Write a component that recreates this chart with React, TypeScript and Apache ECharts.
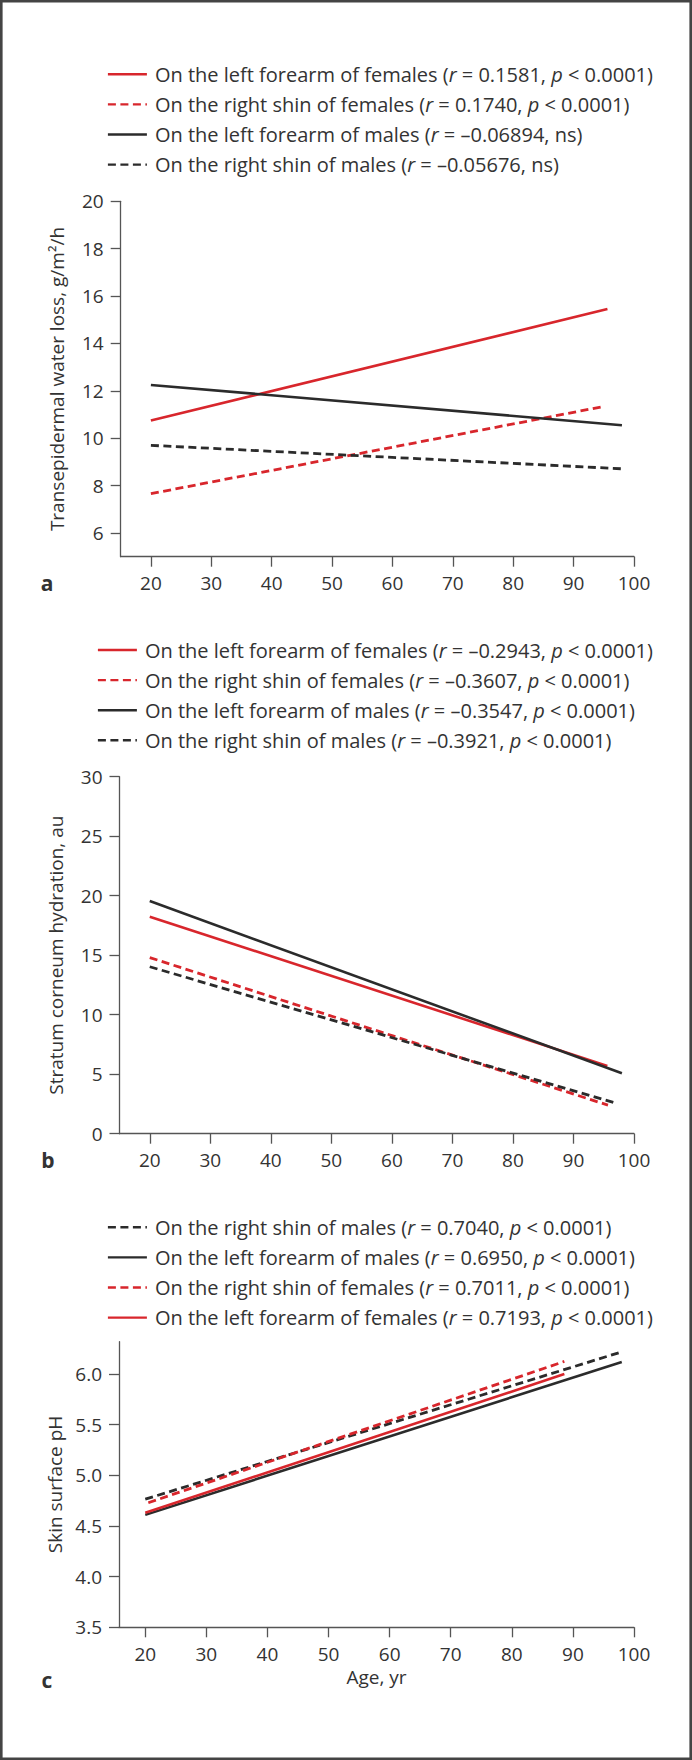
import React, { useEffect, useRef } from "react";
import * as echarts from "echarts";

// ---------- data ----------
const X_TICKS = [20, 30, 40, 50, 60, 70, 80, 90, 100];
const A_Y_TICKS = [6, 8, 10, 12, 14, 16, 18, 20];
const B_Y_TICKS = [0, 5, 10, 15, 20, 25, 30];
const C_Y_TICKS = [3.5, 4.0, 4.5, 5.0, 5.5, 6.0];

const A_NAMES = [
  "On the left forearm of females (r = 0.1581, p < 0.0001)",
  "On the right shin of females (r = 0.1740, p < 0.0001)",
  "On the left forearm of males (r = –0.06894, ns)",
  "On the right shin of males (r = –0.05676, ns)",
];
const A_F_FOREARM = [[20, 10.75], [95.6, 15.45]];
const A_F_SHIN = [[20, 7.66], [95, 11.34]];
const A_M_FOREARM = [[20, 12.25], [98, 10.55]];
const A_M_SHIN = [[20, 9.7], [98, 8.71]];

const B_NAMES = [
  "On the left forearm of females (r = –0.2943, p < 0.0001)",
  "On the right shin of females (r = –0.3607, p < 0.0001)",
  "On the left forearm of males (r = –0.3547, p < 0.0001)",
  "On the right shin of males (r = –0.3921, p < 0.0001)",
];
const B_F_FOREARM = [[20, 18.24], [95.6, 5.7]];
const B_F_SHIN = [[20, 14.8], [95.7, 2.4]];
const B_M_FOREARM = [[20, 19.55], [98, 5.08]];
const B_M_SHIN = [[20, 14.03], [97.1, 2.55]];

const C_NAMES = [
  "On the right shin of males (r = 0.7040, p < 0.0001)",
  "On the left forearm of males (r = 0.6950, p < 0.0001)",
  "On the right shin of females (r = 0.7011, p < 0.0001)",
  "On the left forearm of females (r = 0.7193, p < 0.0001)",
];
const C_M_SHIN = [[20, 4.765], [98, 6.22]];
const C_M_FOREARM = [[20, 4.61], [98, 6.12]];
const C_F_SHIN = [[20.5, 4.73], [88.6, 6.125]];
const C_F_FOREARM = [[20, 4.63], [88.6, 6.0]];

// ---------- styles ----------
const FONT = "'Open Sans', 'Noto Sans', sans-serif";
const RED = "#d8262c";
const BLACK = "#2b2b2b";
const TEXT = "#333333";
const AXIS = "#555555";

const fmtName = (name: string) =>
  name.replace("(r = ", "({i|r} = ").replace(", p < ", ", {i|p} < ");

function legend(names: string[], left: number, top: number) {
  return {
    data: names,
    orient: "vertical",
    left,
    top,
    padding: 0,
    itemWidth: 39,
    itemHeight: 12,
    itemGap: 8.1,
    selectedMode: false,
    formatter: fmtName,
    itemStyle: { opacity: 0 },
    lineStyle: { width: 2.4 },
    textStyle: {
      fontFamily: FONT,
      fontSize: 20,
      lineHeight: 22,
      color: TEXT,
      padding: [0, 0, 0, 3],
      rich: {
        i: { fontFamily: FONT, fontSize: 20, lineHeight: 22, fontStyle: "italic", color: TEXT },
      },
    },
  };
}

function xAxis(gridIndex: number, min: number, name?: string) {
  return {
    type: "value",
    gridIndex,
    min,
    max: 100,
    name: name || "",
    nameLocation: "middle",
    nameGap: 40,
    nameTextStyle: { fontFamily: FONT, fontSize: 19, color: TEXT },
    axisLine: { show: true, onZero: false, lineStyle: { color: AXIS, width: 1.3 } },
    axisTick: { show: true, length: 10, customValues: X_TICKS, lineStyle: { color: AXIS, width: 1.3 } },
    axisLabel: { customValues: X_TICKS, margin: 17, fontSize: 19, fontFamily: FONT, color: TEXT },
    splitLine: { show: false },
  };
}

function yAxis(gridIndex: number, min: number, max: number, ticks: number[], name: string, decimals: number) {
  return {
    type: "value",
    gridIndex,
    min,
    max,
    name,
    nameLocation: "middle",
    nameRotate: 90,
    nameGap: 54,
    nameTextStyle: { fontFamily: FONT, fontSize: 19, color: TEXT },
    axisLine: { show: true, onZero: false, lineStyle: { color: AXIS, width: 1.3 } },
    axisTick: { show: true, length: 10, customValues: ticks, lineStyle: { color: AXIS, width: 1.3 } },
    axisLabel: {
      customValues: ticks,
      margin: 17,
      fontSize: 19,
      fontFamily: FONT,
      color: TEXT,
      formatter: (v: number) => v.toFixed(decimals),
    },
    splitLine: { show: false },
  };
}

function line(name: string, data: number[][], idx: number, color: string, dashed: boolean) {
  return {
    type: "line",
    name,
    data,
    xAxisIndex: idx,
    yAxisIndex: idx,
    symbol: "none",
    showSymbol: false,
    silent: true,
    lineStyle: {
      color,
      width: dashed ? 2.8 : 2.6,
      type: dashed ? [8, 4.5] : "solid",
    },
    itemStyle: { color },
  };
}

export default function App() {
  const ref = useRef<HTMLDivElement>(null);
  useEffect(() => {
    document.body.style.margin = "0";
    const chart = echarts.init(ref.current!, null, { renderer: "svg" });
    chart.setOption({
      animation: false,
      backgroundColor: "#ffffff",
      grid: [
        { left: 120.7, right: 58, top: 201.3, height: 355.4 },
        { left: 119.5, right: 58, top: 776.7, height: 357 },
        { left: 119, right: 58, top: 1341.7, height: 285.6 },
      ],
      legend: [
        legend(A_NAMES, 106.7, 63.3),
        legend(B_NAMES, 96.7, 639),
        legend(C_NAMES, 106.7, 1216.3),
      ],
      xAxis: [xAxis(0, 15), xAxis(1, 15), xAxis(2, 15.7, "Age, yr")],
      yAxis: [
        yAxis(0, 5, 20, A_Y_TICKS, "Transepidermal water loss, g/m²/h", 0),
        yAxis(1, 0, 30, B_Y_TICKS, "Stratum corneum hydration, au", 0),
        yAxis(2, 3.5, 6.32, C_Y_TICKS, "Skin surface pH", 1),
      ],
      series: [
        line(A_NAMES[0], A_F_FOREARM, 0, RED, false),
        line(A_NAMES[1], A_F_SHIN, 0, RED, true),
        line(A_NAMES[2], A_M_FOREARM, 0, BLACK, false),
        line(A_NAMES[3], A_M_SHIN, 0, BLACK, true),
        line(B_NAMES[0], B_F_FOREARM, 1, RED, false),
        line(B_NAMES[1], B_F_SHIN, 1, RED, true),
        line(B_NAMES[2], B_M_FOREARM, 1, BLACK, false),
        line(B_NAMES[3], B_M_SHIN, 1, BLACK, true),
        line(C_NAMES[0], C_M_SHIN, 2, BLACK, true),
        line(C_NAMES[1], C_M_FOREARM, 2, BLACK, false),
        line(C_NAMES[2], C_F_SHIN, 2, RED, true),
        line(C_NAMES[3], C_F_FOREARM, 2, RED, false),
      ],
      graphic: [
        {
          type: "rect",
          shape: { x: 1.3, y: 1.3, width: 689.4, height: 1757.4 },
          style: { fill: "none", stroke: "#444444", lineWidth: 2.6 },
          silent: true,
        },
        {
          type: "text",
          x: 47, y: 583,
          style: { text: "a", fontFamily: FONT, fontSize: 21, fontWeight: "bold", fill: TEXT, align: "center", verticalAlign: "middle" },
        },
        {
          type: "text",
          x: 48, y: 1160,
          style: { text: "b", fontFamily: FONT, fontSize: 21, fontWeight: "bold", fill: TEXT, align: "center", verticalAlign: "middle" },
        },
        {
          type: "text",
          x: 47, y: 1680,
          style: { text: "c", fontFamily: FONT, fontSize: 21, fontWeight: "bold", fill: TEXT, align: "center", verticalAlign: "middle" },
        },
      ],
    });
    return () => chart.dispose();
  }, []);
  return <div ref={ref} style={{ width: 692, height: 1760 }} />;
}
